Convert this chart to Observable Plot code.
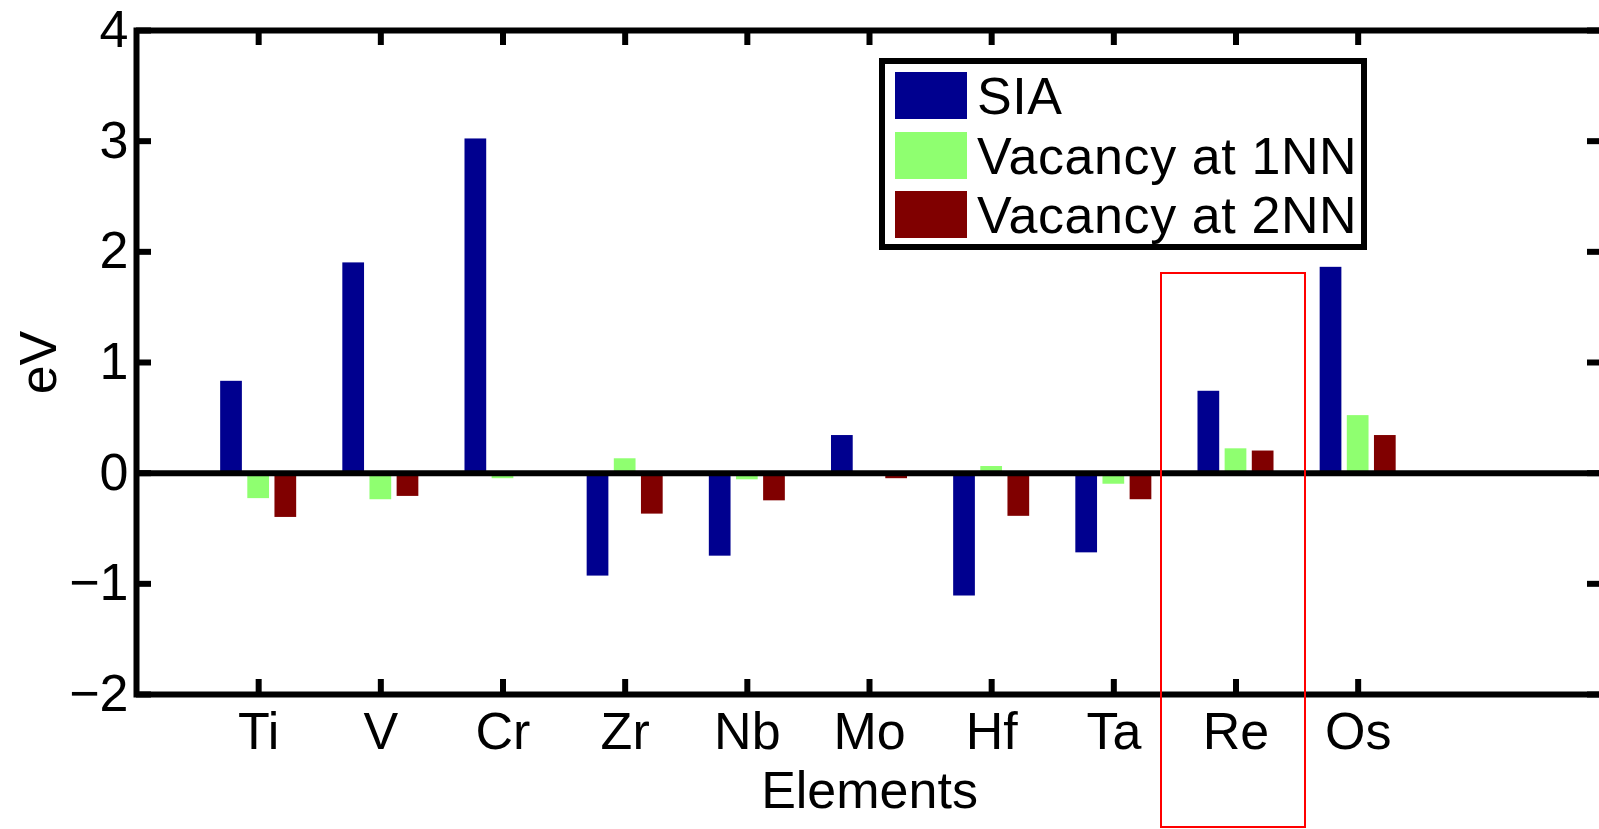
<!DOCTYPE html>
<html>
<head>
<meta charset="utf-8">
<script src="https://cdn.jsdelivr.net/npm/d3@7"></script>
<script src="https://cdn.jsdelivr.net/npm/@observablehq/plot@0.6"></script>
<style>
  html, body { margin: 0; padding: 0; background: #fff; overflow: hidden; }
  #wrap { position: relative; width: 1599px; height: 829px; overflow: hidden; font-family: "Liberation Sans", Arial, sans-serif; }
  #chart { width: 1620px; }
  #chart svg { display: block; max-width: none !important; }
  .legend { position: absolute; left: 879px; top: 58px; width: 488px; height: 192px; box-sizing: border-box;
            border: 6px solid #000; background: #fff; }
  .legend .item { position: absolute; left: 10px; height: 47px; }
  .legend .sw { position: absolute; left: 0; top: 0; width: 72px; height: 47px; }
  .legend .lbl { position: absolute; left: 82px; top: -2px; font-size: 52px; line-height: 1; letter-spacing: 0.6px; white-space: nowrap; color: #000; }
  .highlight { position: absolute; left: 1160px; top: 272px; width: 146px; height: 556px; box-sizing: border-box;
               border: 2px solid #ff0000; pointer-events: none; }
</style>
</head>
<body>
<div id="wrap">
  <div id="chart"></div>
</div>
<script>
// Solute–defect binding energies per alloying element (eV)
const elements = ["Ti", "V", "Cr", "Zr", "Nb", "Mo", "Hf", "Ta", "Re", "Os"];
const sia      = [0.83, 1.90, 3.02, -0.93, -0.75, 0.34, -1.11, -0.72, 0.74, 1.86];
const vac1nn   = [-0.23, -0.24, -0.05, 0.13, -0.06, -0.02, 0.06, -0.10, 0.22, 0.52];
const vac2nn   = [-0.40, -0.21, -0.02, -0.37, -0.25, -0.05, -0.39, -0.24, 0.20, 0.34];
const seriesNames  = ["SIA", "Vacancy at 1NN", "Vacancy at 2NN"];
const seriesColors = ["#00008f", "#8fff70", "#800000"];
const yTicks = [-2, -1, 0, 1, 2, 3, 4];
const highlighted = "Re";

const seriesValues = [sia, vac1nn, vac2nn];

// grouped-bar layout: three bars per element, centred on the element's position
const nSeries = seriesValues.length;
const groupWidth = Math.min(0.8, nSeries / (nSeries + 1.5));
const slot = groupWidth / nSeries;
const barWidth = 0.8 * slot;

const rows = elements.flatMap((el, i) => seriesValues.map((vals, j) => {
  const center = i + 1 + (j - (nSeries - 1) / 2) * slot;
  return {element: el, series: seriesNames[j], x1: center - barWidth / 2, x2: center + barWidth / 2, value: vals[i]};
}));

const positions = elements.map((_, i) => i + 1);

const W = 1620, H = 829;
const mL = 136, mR = 18, mT = 30, mB = 135;
const plotW = W - mL - mR, plotH = H - mT - mB;
const tickLen = 15;
const FS = 52;
const fmt = d => d < 0 ? "\u2212" + (-d) : String(d);

const chart = Plot.plot({
  width: W,
  height: H,
  marginLeft: mL,
  marginRight: mR,
  marginTop: mT,
  marginBottom: mB,
  style: {fontFamily: '"Liberation Sans", Arial, sans-serif', fontSize: FS + "px", color: "#000", background: "#fff", maxWidth: "none"},
  x: {type: "linear", domain: [0, elements.length + 2], axis: null},
  y: {domain: [-2, 4], axis: null},
  color: {domain: seriesNames, range: seriesColors},
  marks: [
    Plot.rect(rows, {x1: "x1", x2: "x2", y1: 0, y2: "value", fill: "series"}),
    Plot.ruleY([0], {stroke: "#000", strokeWidth: 6}),
    // inward ticks on all four sides
    Plot.ruleX(positions, {x: d => d, insetTop: plotH - tickLen, stroke: "#000", strokeWidth: 6}),
    Plot.ruleX(positions, {x: d => d, insetBottom: plotH - tickLen, stroke: "#000", strokeWidth: 6}),
    Plot.ruleY(yTicks, {y: d => d, insetRight: plotW - tickLen, stroke: "#000", strokeWidth: 6}),
    Plot.ruleY(yTicks, {y: d => d, insetLeft: plotW - tickLen, stroke: "#000", strokeWidth: 6}),
    Plot.frame({stroke: "#000", strokeWidth: 6}),
    // tick labels
    Plot.text(elements, {x: (d, i) => i + 1, text: d => d, frameAnchor: "bottom", dy: 38, textAnchor: "middle", lineAnchor: "middle", fontSize: FS, fill: "#000"}),
    Plot.text(yTicks, {y: d => d, text: fmt, frameAnchor: "left", dx: -8, textAnchor: "end", lineAnchor: "middle", fontSize: FS, fill: "#000"}),
    // axis titles
    Plot.text(["Elements"], {text: d => d, frameAnchor: "bottom", dy: 97, textAnchor: "middle", lineAnchor: "middle", fontSize: FS, fill: "#000"}),
    Plot.text(["eV"], {text: d => d, frameAnchor: "left", dx: -97, rotate: -90, textAnchor: "middle", lineAnchor: "middle", fontSize: FS, fill: "#000"})
  ]
});

const wrap = document.getElementById("wrap");
document.getElementById("chart").appendChild(chart);

// legend box inside the axes, upper right
const legend = document.createElement("div");
legend.className = "legend";
seriesNames.forEach((name, j) => {
  const item = document.createElement("div");
  item.className = "item";
  item.style.top = (8 + j * 59.5) + "px";
  const sw = document.createElement("div");
  sw.className = "sw";
  sw.style.background = seriesColors[j];
  const lbl = document.createElement("div");
  lbl.className = "lbl";
  lbl.textContent = name;
  item.appendChild(sw);
  item.appendChild(lbl);
  legend.appendChild(item);
});
wrap.appendChild(legend);

// outline drawn around the highlighted element's group
const box = document.createElement("div");
box.className = "highlight";
box.title = highlighted;
wrap.appendChild(box);
</script>
</body>
</html>
